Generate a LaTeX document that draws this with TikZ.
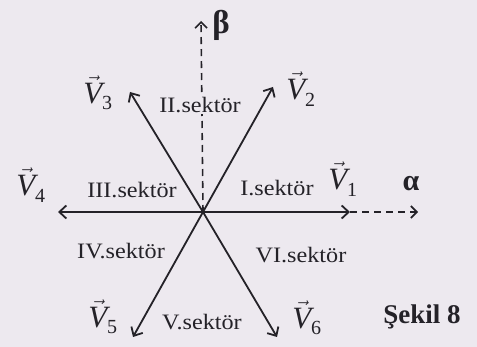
\documentclass[tikz,border=0pt]{standalone}
\usepackage{fontspec}
\setmainfont{Liberation Serif}
\newfontfamily\sekfont[FakeStretch=1.1]{Liberation Serif}
\usetikzlibrary{arrows.meta}
\definecolor{paper}{RGB}{237,233,239}
\definecolor{ink}{RGB}{36,34,40}
\newcommand{\vlab}[1]{{\fontsize{31}{31}\selectfont$\vec{\mbox{\itshape V}}_{\raisebox{-3pt}{\fontsize{20}{20}\selectfont\upshape #1}}$}}
\begin{document}
\begin{tikzpicture}[x=1pt,y=-1pt,
  vecarrow/.style={ink,line width=1.8pt,-{Straight Barb[length=7pt,width=13pt]}},
  axisarrow/.style={ink,line width=1.6pt,dash pattern=on 7pt off 5pt,-{Straight Barb[length=6pt,width=12pt]}},
  sek/.style={text=ink,font=\sekfont\fontsize{22}{22}\selectfont,inner sep=0pt},
  vl/.style={text=ink,inner sep=0pt},
  greek/.style={text=ink,font=\bfseries\fontsize{30}{30}\selectfont,inner sep=0pt}]
\fill[paper] (0,0) rectangle (477,347);
\useasboundingbox (0,0) rectangle (477,347);
\coordinate (O) at (203,212);
\coordinate (t1) at (350,212);
\coordinate (t2) at (273,87);
\coordinate (t3) at (130,92);
\coordinate (t4) at (58,212);
\coordinate (t5) at (133,337);
\coordinate (t6) at (277,337);
\coordinate (ta) at (418,212);
\coordinate (tb) at (201,21);
\draw[axisarrow] (t1) -- (ta);
\draw[axisarrow] (O) -- (tb);
\foreach \i in {1,...,6} \draw[vecarrow] (O) -- (t\i);
\node[vl] (l1) at (343,179) {\vlab{1}};
\node[vl] (l2) at (301,89) {\vlab{2}};
\node[vl] (l3) at (98,93) {\vlab{3}};
\node[vl] (l4) at (31,185) {\vlab{4}};
\node[vl] (l5) at (103,317) {\vlab{5}};
\node[vl] (l6) at (307,318) {\vlab{6}};
\node[greek] (alpha) at (411,184) {α};
\node[greek,font=\bfseries\fontsize{33}{33}\selectfont] (beta) at (221,25) {β};
\node[sek] (s1) at (277,188) {I.sektör};
\node[sek,fill=paper,inner sep=1pt] (s2) at (200,105) {II.sektör};
\node[sek] (s3) at (132,190) {III.sektör};
\node[sek] (s4) at (121,251) {IV.sektör};
\node[sek] (s5) at (202,322) {V.sektör};
\node[sek] (s6) at (301,255) {VI.sektör};
\node[text=ink,font=\bfseries\fontsize{27}{27}\selectfont,inner sep=0pt] (fig) at (422,317) {Şekil 8};
\end{tikzpicture}
\end{document}
